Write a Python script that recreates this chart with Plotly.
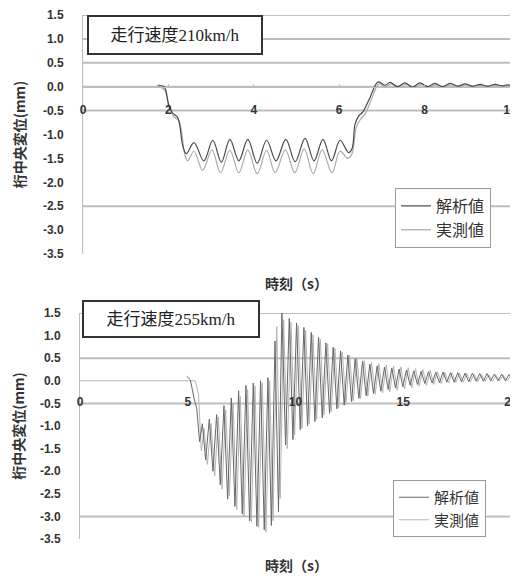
import plotly.graph_objects as go

# page body has an 8px default margin: the figure is drawn 8px right/down
OX, OY = 8, 8
W, H = 518 - OX, 576 - OY

# ---------------- data: 走行速度210km/h ----------------
t_top_ana = [1.75, 1.90, 2.00, 2.10, 2.22, 2.34, 2.42, 2.60, 2.83, 3.04, 3.24, 3.44, 3.65, 3.86,
             4.08, 4.30, 4.52, 4.75, 4.97, 5.20, 5.41, 5.62, 5.82, 6.02, 6.22, 6.30, 6.37, 6.45,
             6.56, 6.72, 6.91, 7.07, 7.19, 7.37, 7.54, 7.72, 7.89, 8.07, 8.24, 8.42, 8.60, 8.78,
             8.95, 9.12, 9.30, 9.47, 9.65, 9.80, 9.95, 10.0]
v_top_ana = [0.03, 0.0, -0.35, -0.55, -0.65, -1.25, -1.40, -1.17, -1.55, -1.12, -1.58, -1.10, -1.55, -1.10,
             -1.60, -1.12, -1.55, -1.10, -1.57, -1.08, -1.55, -1.10, -1.55, -1.12, -1.38, -1.30, -0.79, -0.62,
             -0.52, -0.23, 0.10, 0.03, 0.09, 0.00, 0.08, -0.01, 0.08, 0.00, 0.07, 0.00, 0.07, 0.01,
             0.06, 0.01, 0.05, 0.01, 0.05, 0.02, 0.04, 0.03]

t_top_mea = [1.75, 1.92, 2.02, 2.12, 2.25, 2.38, 2.45, 2.60, 2.80, 3.02, 3.22, 3.44, 3.65, 3.86,
             4.08, 4.30, 4.50, 4.74, 4.96, 5.18, 5.39, 5.60, 5.83, 6.02, 6.20, 6.30, 6.40, 6.50,
             6.60, 6.75, 6.93, 7.08, 7.22, 7.40, 7.57, 7.75, 7.92, 8.10, 8.27, 8.45, 8.62, 8.80,
             8.97, 9.15, 9.32, 9.50, 9.67, 9.85, 10.0]
v_top_mea = [0.02, -0.08, -0.45, -0.62, -0.72, -1.40, -1.55, -1.35, -1.75, -1.32, -1.80, -1.33, -1.80, -1.32,
             -1.82, -1.33, -1.80, -1.32, -1.80, -1.30, -1.82, -1.32, -1.80, -1.35, -1.50, -1.40, -0.85, -0.68,
             -0.58, -0.28, 0.06, 0.00, 0.06, -0.02, 0.05, -0.02, 0.05, -0.01, 0.04, -0.01, 0.04, 0.00,
             0.04, 0.00, 0.03, 0.00, 0.03, 0.01, 0.02]

# ---------------- data: 走行速度255km/h ----------------
t_bot_ana = [4.95, 5.12, 5.30, 5.42, 5.55, 5.68, 5.83, 6.00, 6.17, 6.34, 6.51, 6.68, 6.85, 7.02,
             7.19, 7.36, 7.53, 7.70, 7.87, 8.04, 8.21, 8.38, 8.55, 8.72, 8.88, 9.05, 9.21, 9.37,
             9.54, 9.71, 9.88, 10.05, 10.22, 10.39, 10.56, 10.73, 10.90, 11.07, 11.24, 11.41, 11.58, 11.75,
             11.92, 12.09, 12.26, 12.43, 12.60, 12.77, 12.94, 13.11, 13.28, 13.45, 13.62, 13.79, 13.96, 14.13,
             14.30, 14.47, 14.64, 14.81, 14.98, 15.15, 15.32, 15.49, 15.66, 15.83, 16.00, 16.17, 16.34, 16.51,
             16.68, 16.85, 17.02, 17.19, 17.36, 17.53, 17.70, 17.87, 18.04, 18.21, 18.38, 18.55, 18.72, 18.89,
             19.06, 19.23, 19.40, 19.57, 19.74, 19.91, 20.0]
v_bot_ana = [0.10, 0.02, -0.40, -0.62, -1.35, -0.95, -1.75, -0.85, -2.00, -0.75, -2.30, -0.55, -2.62, -0.38,
             -2.78, -0.22, -2.95, -0.10, -3.10, -0.05, -3.22, 0.00, -3.30, 0.07, -3.20, 0.88, -2.90, 1.50,
             -1.42, 1.38, -1.30, 1.28, -1.08, 1.18, -1.00, 1.07, -0.90, 0.96, -0.82, 0.84, -0.72, 0.74,
             -0.62, 0.66, -0.54, 0.57, -0.46, 0.49, -0.39, 0.43, -0.33, 0.37, -0.28, 0.33, -0.23, 0.30,
             -0.19, 0.28, -0.16, 0.26, -0.13, 0.24, -0.10, 0.22, -0.08, 0.21, -0.06, 0.20, -0.05, 0.19,
             -0.04, 0.19, -0.03, 0.18, -0.03, 0.18, -0.02, 0.17, -0.02, 0.17, -0.01, 0.16, -0.01, 0.16,
             0.00, 0.15, 0.00, 0.15, 0.00, 0.14, 0.07]

t_bot_mea = [0.0, 5.35, 5.50, 5.63, 5.76, 5.91, 6.08, 6.25, 6.42, 6.59, 6.76, 6.93, 7.10, 7.27,
             7.44, 7.61, 7.78, 7.95, 8.12, 8.29, 8.46, 8.63, 8.80, 8.96, 9.13, 9.29, 9.45, 9.62,
             9.79, 9.96, 10.13, 10.30, 10.47, 10.64, 10.81, 10.98, 11.15, 11.32, 11.49, 11.66, 11.83, 12.00,
             12.17, 12.34, 12.51, 12.68, 12.85, 13.02, 13.19, 13.36, 13.53, 13.70, 13.87, 14.04, 14.21, 14.38,
             14.55, 14.72, 14.89, 15.06, 15.23, 15.40, 15.57, 15.74, 15.91, 16.08, 16.25, 16.42, 16.59, 16.76,
             16.93, 17.10, 17.27, 17.44, 17.61, 17.78, 17.95, 18.12, 18.29, 18.46, 18.63, 18.80, 18.97, 19.14,
             19.31, 19.48, 19.65, 19.82, 19.99]
v_bot_mea = [0.0, 0.0, -0.30, -1.55, -1.05, -1.85, -0.95, -2.10, -0.80, -2.40, -0.65, -2.55, -0.50, -2.85,
             -0.35, -3.00, -0.20, -3.12, -0.12, -3.25, -0.05, -3.35, 0.00, -3.10, 1.20, -2.60, 1.35, -1.50,
             1.30, -1.20, 1.22, -1.05, 1.12, -0.95, 1.02, -0.85, 0.92, -0.76, 0.82, -0.68, 0.72, -0.60,
             0.64, -0.52, 0.56, -0.45, 0.50, -0.39, 0.45, -0.34, 0.41, -0.30, 0.38, -0.27, 0.35, -0.24,
             0.33, -0.21, 0.31, -0.18, 0.29, -0.15, 0.27, -0.12, 0.25, -0.10, 0.23, -0.08, 0.21, -0.06,
             0.19, -0.05, 0.18, -0.04, 0.17, -0.03, 0.16, -0.02, 0.15, -0.02, 0.14, -0.01, 0.13, -0.01,
             0.12, 0.00, 0.12, 0.00, 0.11]

# ---------------- ticks / labels ----------------
y_ticks = [1.5, 1.0, 0.5, 0.0, -0.5, -1.0, -1.5, -2.0, -2.5, -3.0, -3.5]
y_tick_text = ["1.5", "1.0", "0.5", "0.0", "-0.5", "-1.0", "-1.5", "-2.0", "-2.5", "-3.0", "-3.5"]
top_grid = [1.5, 1.0, 0.5, 0.0, -0.5, -2.5]
bot_grid = [1.5, 0.5, -0.5, -3.0]
x_ticks_top = [0, 2, 4, 6, 8, 10]
x_ticks_bot = [0, 5, 10, 15, 20]
titles = ["走行速度210km/h", "走行速度255km/h"]
series_names = ["解析値", "実測値"]
y_title = "桁中央変位(mm)"
x_title = "時刻（s）"

DARK = "#4a4a4a"
LIGHT = "#ababab"
FONT = "Liberation Sans, Noto Sans CJK JP, sans-serif"
CJK = "Noto Sans CJK JP, sans-serif"
GRID = "#bdbdbd"


def fx(px):
    return (px - OX) / W


def fy(py):
    return (H - (py - OY)) / H


top_dom = [fy(254), fy(15)]
bot_dom = [fy(539), fy(313)]
top_xd = [fx(83), fx(510)]
bot_xd = [fx(80), fx(511)]
yr = [-3.5, 1.5]
top_x0 = top_dom[0] + (0 - yr[0]) / (yr[1] - yr[0]) * (top_dom[1] - top_dom[0])
bot_x0 = bot_dom[0] + (0 - yr[0]) / (yr[1] - yr[0]) * (bot_dom[1] - bot_dom[0])

fig = go.Figure()

fig.add_trace(go.Scatter(x=t_top_mea, y=v_top_mea, name=series_names[1], mode="lines",
                         line=dict(color=LIGHT, width=1.2, shape="spline", smoothing=1.0),
                         xaxis="x", yaxis="y", legend="legend", legendrank=2, legendgroup="m"))
fig.add_trace(go.Scatter(x=t_top_ana, y=v_top_ana, name=series_names[0], mode="lines",
                         line=dict(color=DARK, width=1.2, shape="spline", smoothing=1.0),
                         xaxis="x", yaxis="y", legend="legend", legendrank=1, legendgroup="a"))
fig.add_trace(go.Scatter(x=t_bot_mea, y=v_bot_mea, name=series_names[1], mode="lines",
                         line=dict(color="#b4b4b4", width=1),
                         xaxis="x2", yaxis="y2", legend="legend2", legendrank=2, legendgroup="m2"))
fig.add_trace(go.Scatter(x=t_bot_ana, y=v_bot_ana, name=series_names[0], mode="lines",
                         line=dict(color="#686868", width=1),
                         xaxis="x2", yaxis="y2", legend="legend2", legendrank=1, legendgroup="a2"))

tickfont = dict(family=FONT, size=12, color="#333")


def yaxis(dom, anchor):
    return dict(domain=dom, range=yr, anchor=anchor, tickmode="array", tickvals=y_ticks,
                ticktext=["<b>%s</b>" % s for s in y_tick_text], tickfont=tickfont,
                showgrid=False, zeroline=False, showline=True, mirror=True, linecolor="#bdbdbd",
                linewidth=1, ticks="", ticklabelstandoff=16, automargin=False,
                title=dict(text="<b>%s</b>" % y_title, font=dict(family=CJK, size=14, color="#333"),
                           standoff=14))


fig.update_layout(
    width=W, height=H, margin=dict(l=0, r=0, t=0, b=0, autoexpand=False),
    paper_bgcolor="white", plot_bgcolor="rgba(0,0,0,0)", showlegend=True,
    xaxis=dict(domain=top_xd, range=[0, 10], anchor="free", position=top_x0,
               tickmode="array", tickvals=x_ticks_top,
               ticktext=["<b>%s</b>" % v for v in x_ticks_top], tickfont=tickfont,
               showgrid=False, zeroline=False, showline=True, linecolor="#bdbdbd",
               ticks="inside", ticklen=3, tickcolor="#bdbdbd", ticklabelstandoff=12,
               automargin=False),
    yaxis=yaxis(top_dom, "x"),
    xaxis2=dict(domain=bot_xd, range=[0, 20], anchor="free", position=bot_x0,
                tickmode="array", tickvals=x_ticks_bot,
                ticktext=["<b>%s</b>" % v for v in x_ticks_bot], tickfont=tickfont,
                showgrid=False, zeroline=False, showline=False,
                ticks="", ticklabelstandoff=12, automargin=False),
    yaxis2=yaxis(bot_dom, "x2"),
    legend=dict(x=fx(395), y=fy(188), xanchor="left", yanchor="top", bgcolor="white",
                bordercolor="#9a9a9a", borderwidth=1, itemwidth=30, tracegroupgap=0,
                font=dict(family=CJK, size=16, color="#333")),
    legend2=dict(x=fx(393), y=fy(480), xanchor="left", yanchor="top", bgcolor="white",
                 bordercolor="#9a9a9a", borderwidth=1, itemwidth=30, tracegroupgap=0,
                 font=dict(family=CJK, size=15, color="#333")),
)

# horizontal grid lines
for g in top_grid:
    fig.add_shape(type="line", xref="paper", yref="y", x0=top_xd[0], x1=top_xd[1], y0=g, y1=g,
                  line=dict(color=GRID, width=2), layer="below")
for g in bot_grid:
    fig.add_shape(type="line", xref="paper", yref="y2", x0=bot_xd[0], x1=bot_xd[1], y0=g, y1=g,
                  line=dict(color=GRID, width=2), layer="below")

box_font = dict(family="Liberation Serif, Noto Sans CJK JP, serif", size=17, color="#222")
fig.add_annotation(xref="paper", yref="paper", x=fx(175), y=fy(35), xanchor="center",
                   yanchor="middle", text=titles[0],
                   showarrow=False, font=box_font, bgcolor="white", bordercolor="#333",
                   borderwidth=2, borderpad=2, width=168, height=32)
fig.add_annotation(xref="paper", yref="paper", x=fx(171), y=fy(319), xanchor="center",
                   yanchor="middle", text=titles[1],
                   showarrow=False, font=box_font, bgcolor="white", bordercolor="#333",
                   borderwidth=2, borderpad=2, width=170, height=30)

xt_font = dict(family=CJK, size=14, color="#333")
fig.add_annotation(xref="paper", yref="paper", x=fx(296), y=fy(283), xanchor="center",
                   yanchor="middle", text="<b>%s</b>" % x_title, showarrow=False, font=xt_font)
fig.add_annotation(xref="paper", yref="paper", x=fx(296), y=fy(565), xanchor="center",
                   yanchor="middle", text="<b>%s</b>" % x_title, showarrow=False, font=xt_font)

fig.write_html("out.html")
